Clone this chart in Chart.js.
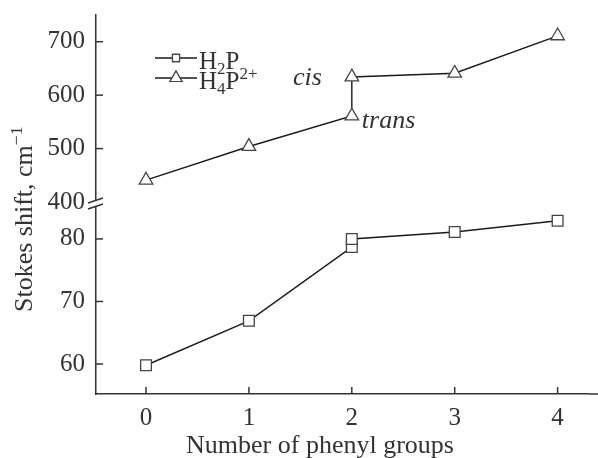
<!DOCTYPE html>
<html>
<head>
<meta charset="utf-8">
<script src="https://cdn.jsdelivr.net/npm/chart.js@4.4.1/dist/chart.umd.min.js"></script>
<style>
  body { margin: 0; background: #fff; }
  canvas { display: block; }
</style>
</head>
<body>
<canvas id="chart" width="598" height="458"></canvas>
<script>
// values
const phenylTicks = [0, 1, 2, 3, 4];
const phenylH2P = [0, 1, 2, 2, 3, 4];
const stokesH2P = [59.8, 66.9, 78.7, 80.0, 81.1, 82.9];
const phenylH4P = [0, 1, 2, 2, 3, 4];
const stokesH4P = [441, 504, 561, 634, 641, 711];
const upperTicks = [400, 450, 500, 550, 600, 650, 700, 750];
const upperLabels = [400, 500, 600, 700];
const lowerTicks = [60, 65, 70, 75, 80];
const lowerLabels = [60, 70, 80];

const SERIF = '"Liberation Serif", "Times New Roman", serif';
const INK = '#333';

const toPoints = (xs, ys) => xs.map((x, i) => ({ x: x, y: ys[i] }));

// draw text with sub/superscript pieces: [text, shift] where shift -1 = sub, 1 = sup
function drawRich(ctx, parts, x, y, size, style) {
    parts.forEach(([txt, shift]) => {
        const s = shift ? size * 0.68 : size;
        ctx.font = `${style || ''} ${s}px ${SERIF}`;
        ctx.fillText(txt, x, y - shift * size * (shift > 0 ? 0.4 : 0.22));
        x += ctx.measureText(txt).width;
    });
}

const noPadding = s => { s.paddingLeft = 0; s.paddingRight = 0; s.paddingTop = 0; s.paddingBottom = 0; };

const decorations = {
    id: 'decorations',
    afterDraw(chart) {
        const { ctx, chartArea: area, scales } = chart;
        ctx.save();
        ctx.strokeStyle = INK;
        ctx.lineWidth = 1.5;

        // x axis line runs on to the right edge of the figure
        ctx.beginPath(); ctx.moveTo(area.right, area.bottom); ctx.lineTo(chart.width, area.bottom); ctx.stroke();

        // inward tick marks
        scales.yHigh.ticks.forEach(t => {
            if (t.value === 400) return;
            const y = scales.yHigh.getPixelForValue(t.value);
            ctx.beginPath(); ctx.moveTo(area.left, y); ctx.lineTo(area.left + 7, y); ctx.stroke();
        });
        scales.yLow.ticks.forEach(t => {
            const y = scales.yLow.getPixelForValue(t.value);
            ctx.beginPath(); ctx.moveTo(area.left, y); ctx.lineTo(area.left + 7, y); ctx.stroke();
        });
        scales.x.ticks.forEach(t => {
            const x = scales.x.getPixelForValue(t.value);
            ctx.beginPath(); ctx.moveTo(x, area.bottom); ctx.lineTo(x, area.bottom - 7); ctx.stroke();
        });

        // axis break
        const yb = scales.yHigh.bottom + 1;
        ctx.fillStyle = '#fff';
        ctx.fillRect(area.left - 2, yb - 3, 4, 6);
        ctx.beginPath();
        ctx.moveTo(area.left - 8, yb); ctx.lineTo(area.left + 7, yb - 5);
        ctx.moveTo(area.left - 8, yb + 6); ctx.lineTo(area.left + 7, yb + 1);
        ctx.stroke();

        // legend
        ctx.fillStyle = INK;
        ctx.textBaseline = 'alphabetic';
        ctx.textAlign = 'left';
        const rows = [
            { y: 58, ds: chart.data.datasets[0], size: 5, parts: [['H', 0], ['2', -1], ['P', 0]] },
            { y: 78, ds: chart.data.datasets[1], size: 7, parts: [['H', 0], ['4', -1], ['P', 0], ['2+', 1]] }
        ];
        rows.forEach(r => {
            ctx.strokeStyle = r.ds.borderColor;
            ctx.lineWidth = 1.4;
            ctx.beginPath(); ctx.moveTo(155, r.y); ctx.lineTo(197, r.y); ctx.stroke();
            ctx.fillStyle = '#fff';
            ctx.strokeStyle = r.ds.pointBorderColor;
            ctx.lineWidth = 1.2;
            Chart.helpers.drawPoint(ctx, { pointStyle: r.ds.pointStyle, radius: r.size, borderWidth: 1.2 }, 176, r.y);
            ctx.fill(); ctx.stroke();
            ctx.fillStyle = INK;
            drawRich(ctx, r.parts, 199, r.y + 10.5, 25);
        });

        // cis / trans labels next to the two x = 2 points
        const xp = scales.x.getPixelForValue(2);
        ctx.font = `italic 26px ${SERIF}`;
        ctx.textAlign = 'right';
        ctx.fillText('cis', xp - 30, scales.yHigh.getPixelForValue(stokesH4P[3]) + 8);
        ctx.textAlign = 'left';
        ctx.fillText('trans', xp + 10, scales.yHigh.getPixelForValue(stokesH4P[2]) + 12);

        // axis titles
        ctx.font = `26px ${SERIF}`;
        ctx.textAlign = 'center';
        ctx.fillText('Number of phenyl groups', 320, 453);

        ctx.translate(32, 312);
        ctx.rotate(-Math.PI / 2);
        ctx.textAlign = 'left';
        drawRich(ctx, [['Stokes shift, cm', 0], ['\u22121', 1]], 0, 0, 26);
        ctx.restore();
    }
};

const yBase = {
    type: 'linear',
    position: 'left',
    stack: 'yaxis',
    grid: { drawOnChartArea: false, drawTicks: false },
    border: { display: true, color: INK, width: 1.5 },
    afterFit: s => { s.width = 96; noPadding(s); }
};

new Chart(document.getElementById('chart'), {
    type: 'scatter',
    data: {
        datasets: [
            {
                label: 'H2P',
                data: toPoints(phenylH2P, stokesH2P),
                yAxisID: 'yLow',
                showLine: true,
                borderColor: '#1a1a1a',
                borderWidth: 1.4,
                pointStyle: 'rect',
                pointRadius: 7.6,
                pointBackgroundColor: '#fff',
                pointBorderColor: '#444',
                pointBorderWidth: 1.3,
                clip: false
            },
            {
                label: 'H4P2+',
                data: toPoints(phenylH4P, stokesH4P),
                yAxisID: 'yHigh',
                showLine: true,
                borderColor: '#1a1a1a',
                borderWidth: 1.4,
                pointStyle: 'triangle',
                pointRadius: 7.8,
                pointBackgroundColor: '#fff',
                pointBorderColor: '#444',
                pointBorderWidth: 1.3,
                clip: false
            }
        ]
    },
    options: {
        responsive: false,
        animation: false,
        layout: { padding: { top: 15, right: 0, left: 0, bottom: 0 } },
        plugins: { legend: { display: false }, tooltip: { enabled: false } },
        scales: {
            x: {
                type: 'linear',
                // chart area stops ~9px short of the edge, so the range ends at 4.3
                min: -0.486,
                max: 4.304,
                grid: { drawOnChartArea: false, drawTicks: false },
                border: { display: true, color: INK, width: 1.5 },
                afterBuildTicks: s => { s.ticks = phenylTicks.map(v => ({ value: v })); },
                afterFit: s => { s.height = 64; noPadding(s); },
                ticks: { color: INK, padding: 9, font: { family: SERIF, size: 25 } }
            },
            // first stacked axis is laid out at the bottom
            yLow: Object.assign({}, yBase, {
                min: 55.2,
                max: 85.9,
                stackWeight: 191.6,
                afterBuildTicks: s => { s.ticks = lowerTicks.map(v => ({ value: v })); },
                ticks: {
                    color: INK, padding: 11, font: { family: SERIF, size: 25 },
                    callback: v => lowerLabels.includes(v) ? String(v) : ''
                }
            }),
            yHigh: Object.assign({}, yBase, {
                min: 400,
                max: 750,
                stackWeight: 186.7,
                afterBuildTicks: s => { s.ticks = upperTicks.map(v => ({ value: v })); },
                ticks: {
                    color: INK, padding: 11, font: { family: SERIF, size: 25 },
                    callback: v => upperLabels.includes(v) ? String(v) : ''
                }
            })
        }
    },
    plugins: [decorations]
});
</script>
</body>
</html>
